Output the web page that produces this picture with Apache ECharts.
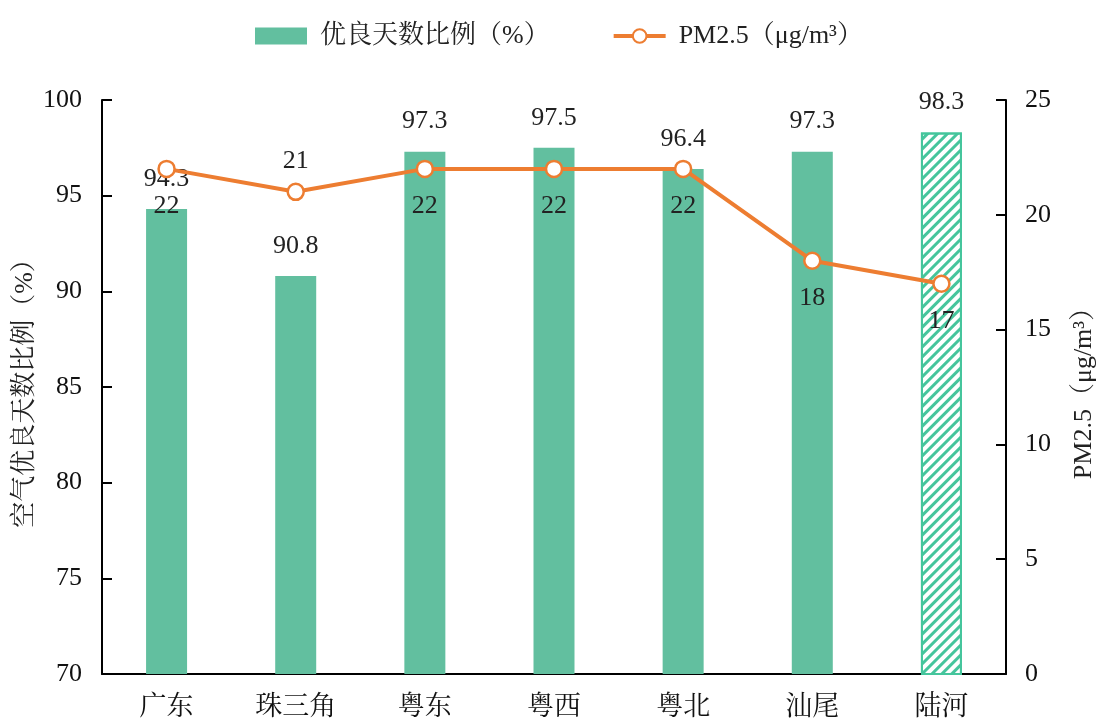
<!DOCTYPE html>
<html>
<head>
<meta charset="utf-8">
<script src="https://cdn.jsdelivr.net/npm/echarts@6/dist/echarts.min.js"></script>
<style>
  html, body { margin: 0; padding: 0; background: #fff; }
  #chart { width: 1097px; height: 722px; }
</style>
</head>
<body>
<div id="chart"></div>
<script>
// Regions and their figures
const regions = ['广东', '珠三角', '粤东', '粤西', '粤北', '汕尾', '陆河'];
const goodDaysRatio = [94.3, 90.8, 97.3, 97.5, 96.4, 97.3, 98.3];
const pm25 = [22, 21, 22, 22, 22, 18, 17];
const pm25LabelPos = ['bottom', 'top', 'bottom', 'bottom', 'bottom', 'bottom', 'bottom'];
const leftTicks = { min: 70, max: 100, interval: 5 };
const rightTicks = { min: 0, max: 25, interval: 5 };

const FONT = '"Liberation Serif", "Times New Roman", "Noto Serif CJK SC", "Noto Sans CJK SC", serif';
const GREEN = '#62BF9F';
const HATCH = '#45C59C';
const ORANGE = '#ED7D31';

const barData = goodDaysRatio.map((v, i) => {
  if (i === goodDaysRatio.length - 1) {
    // the last region is drawn hatched
    return {
      value: v,
      itemStyle: {
        color: '#ffffff',
        borderColor: HATCH,
        borderWidth: 2,
        decal: {
          symbol: 'rect',
          color: HATCH,
          dashArrayX: [1, 0],
          dashArrayY: [3, 4],
          rotation: -Math.PI / 4
        }
      }
    };
  }
  return v;
});

const lineData = pm25.map((v, i) => ({
  value: v,
  label: { position: pm25LabelPos[i], distance: pm25LabelPos[i] === 'top' ? 8 : 15 }
}));

const chart = echarts.init(document.getElementById('chart'));
chart.setOption({
  backgroundColor: '#ffffff',
  textStyle: { fontFamily: FONT },
  legend: {
    top: 18,
    left: 250,
    itemGap: 62,
    textStyle: { fontFamily: FONT, fontSize: 26, color: '#222', padding: [0, 0, 0, 8] },
    data: [
      { name: '优良天数比例（%）', icon: 'rect', itemStyle: { color: GREEN, decal: 'none' } },
      { name: 'PM2.5（μg/m³）', lineStyle: { width: 4 } }
    ],
    itemWidth: 52,
    itemHeight: 17
  },
  grid: { left: 102, right: 91, top: 100, bottom: 48, outerBoundsMode: 'none' },
  xAxis: {
    type: 'category',
    data: regions,
    axisLine: { lineStyle: { color: '#000', width: 2 } },
    axisTick: { show: false },
    axisLabel: { fontFamily: FONT, fontSize: 27, color: '#111', margin: 20 }
  },
  yAxis: [
    {
      type: 'value',
      min: leftTicks.min, max: leftTicks.max, interval: leftTicks.interval,
      name: '空气优良天数比例（%）',
      nameLocation: 'middle',
      nameGap: 64,
      nameMoveOverlap: false,
      nameTextStyle: { fontFamily: FONT, fontSize: 26, color: '#222' },
      axisLine: { show: true, lineStyle: { color: '#000', width: 2 } },
      axisTick: { show: true, inside: true, length: 10, lineStyle: { color: '#000', width: 2 } },
      axisLabel: { fontFamily: FONT, fontSize: 26, color: '#111', margin: 20 },
      splitLine: { show: false }
    },
    {
      type: 'value',
      min: rightTicks.min, max: rightTicks.max, interval: rightTicks.interval,
      name: 'PM2.5（μg/m³）',
      nameLocation: 'middle',
      nameGap: 65,
      nameRotate: 90,
      nameTextStyle: { fontFamily: FONT, fontSize: 26, color: '#222' },
      axisLine: { show: true, lineStyle: { color: '#000', width: 2 } },
      axisTick: { show: true, inside: true, length: 10, lineStyle: { color: '#000', width: 2 } },
      axisLabel: { fontFamily: FONT, fontSize: 26, color: '#111', margin: 19 },
      splitLine: { show: false }
    }
  ],
  series: [
    {
      name: '优良天数比例（%）',
      type: 'bar',
      yAxisIndex: 0,
      barWidth: 41,
      data: barData,
      itemStyle: { color: GREEN },
      label: {
        show: true,
        position: 'top',
        distance: 17,
        fontFamily: FONT,
        fontSize: 26,
        color: '#222'
      }
    },
    {
      name: 'PM2.5（μg/m³）',
      type: 'line',
      yAxisIndex: 1,
      data: lineData,
      symbol: 'circle',
      symbolSize: 16,
      lineStyle: { color: ORANGE, width: 4 },
      itemStyle: { color: '#ffffff', borderColor: ORANGE, borderWidth: 2.5 },
      label: {
        show: true,
        fontFamily: FONT,
        fontSize: 26,
        color: '#222'
      },
      z: 3
    }
  ]
});
</script>
</body>
</html>
